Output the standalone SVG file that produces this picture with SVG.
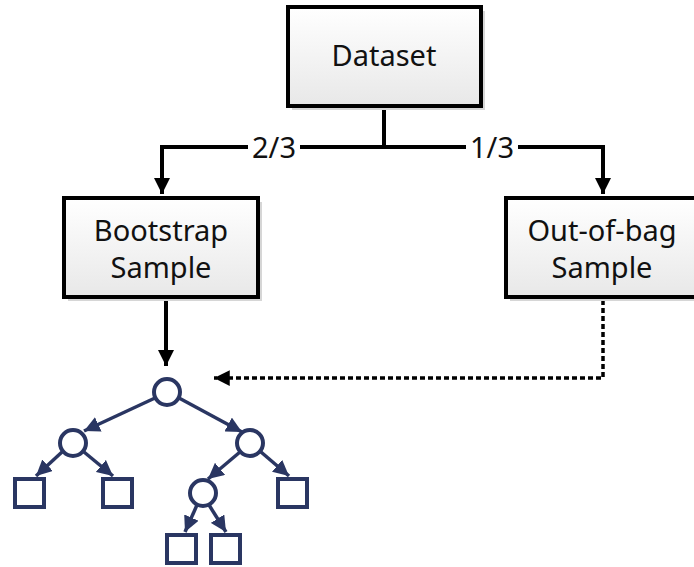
<svg xmlns="http://www.w3.org/2000/svg" width="694" height="567" viewBox="0 0 694 567">
<defs>
<linearGradient id="g" x1="0" y1="0" x2="0" y2="1"><stop offset="0" stop-color="#ffffff"/><stop offset="1" stop-color="#e8e8e8"/></linearGradient>
<marker id="ah" viewBox="0 0 10 10" refX="10" refY="5" markerWidth="4" markerHeight="4" orient="auto" markerUnits="strokeWidth"><path d="M0,0 L10,5 L0,10 z" fill="#000"/></marker>
<marker id="ahd" viewBox="0 0 10 10" refX="10" refY="5" markerWidth="4.5" markerHeight="4.5" orient="auto" markerUnits="strokeWidth"><path d="M0,0 L10,5 L0,10 z" fill="#000"/></marker>
<marker id="at" viewBox="0 0 10 10" refX="10" refY="5" markerWidth="4.5" markerHeight="4.5" orient="auto" markerUnits="strokeWidth"><path d="M0,0 L10,5 L0,10 z" fill="#2a3662"/></marker>
</defs>
<style>
.box{fill:url(#g);stroke:#000;stroke-width:4}
.sh{fill:#d6d6d6}
.t{font-family:"Noto Sans","Open Sans",sans-serif;font-size:29px;fill:#111;text-anchor:middle}
.c{fill:none;stroke:#000;stroke-width:4}
.d{fill:none;stroke:#000;stroke-width:3.5;stroke-dasharray:5 3}
.n{fill:#fff;stroke:#2a3662;stroke-width:4}
.e{stroke:#2a3662;stroke-width:3.5;fill:none}
</style>
<g id="connectors">
<path class="c" d="M384,106 V147"/>
<path class="c" d="M384,147 H162 V194" marker-end="url(#ah)"/>
<path class="c" d="M384,147 H603 V194" marker-end="url(#ah)"/>
<rect x="248" y="136" width="52" height="24" fill="#fff"/>
<rect x="466" y="136" width="52" height="24" fill="#fff"/>
<text class="t" x="274" y="158">2/3</text>
<text class="t" x="492" y="158">1/3</text>
<path class="c" d="M166,298 V366" marker-end="url(#ah)"/>
<path class="d" d="M603,300 V378 H214" marker-end="url(#ahd)"/>
</g>
<g id="dataset">
<rect class="sh" x="292" y="11" width="193" height="99"/>
<rect class="box" x="288" y="7" width="193" height="99"/>
<text class="t" x="384" y="66">Dataset</text>
</g>
<g id="bootstrap">
<rect class="sh" x="68" y="202" width="194" height="99"/>
<rect class="box" x="64" y="198" width="194" height="99"/>
<text class="t" x="161" y="241">Bootstrap</text>
<text class="t" x="161" y="278">Sample</text>
</g>
<g id="oob">
<rect class="sh" x="510" y="202" width="196" height="99"/>
<rect class="box" x="506" y="198" width="196" height="99"/>
<text class="t" x="602" y="241">Out-of-bag</text>
<text class="t" x="602" y="278">Sample</text>
</g>
<g id="tree">
<g id="tree-edges">
<path class="e" d="M155,398 L84,431" marker-end="url(#at)"/>
<path class="e" d="M179,398 L242,432" marker-end="url(#at)"/>
<path class="e" d="M62,452 L36,476" marker-end="url(#at)"/>
<path class="e" d="M84,452 L113,476" marker-end="url(#at)"/>
<path class="e" d="M240,452 L208,479" marker-end="url(#at)"/>
<path class="e" d="M261,452 L289,476" marker-end="url(#at)"/>
<path class="e" d="M197,505 L185,532" marker-end="url(#at)"/>
<path class="e" d="M209,505 L226,532" marker-end="url(#at)"/>
</g>
<circle id="n-root" class="n" cx="167" cy="392" r="13"/>
<circle id="n-l" class="n" cx="73" cy="443" r="13"/>
<circle id="n-r" class="n" cx="250" cy="443" r="13"/>
<circle id="n-rl" class="n" cx="203" cy="493" r="13"/>
<rect id="leaf1" class="n" x="15" y="479" width="29" height="28"/>
<rect id="leaf2" class="n" x="103" y="479" width="29" height="28"/>
<rect id="leaf3" class="n" x="278" y="479" width="29" height="28"/>
<rect id="leaf4" class="n" x="167" y="535" width="29" height="28"/>
<rect id="leaf5" class="n" x="211" y="535" width="29" height="28"/>
</g>
</svg>
